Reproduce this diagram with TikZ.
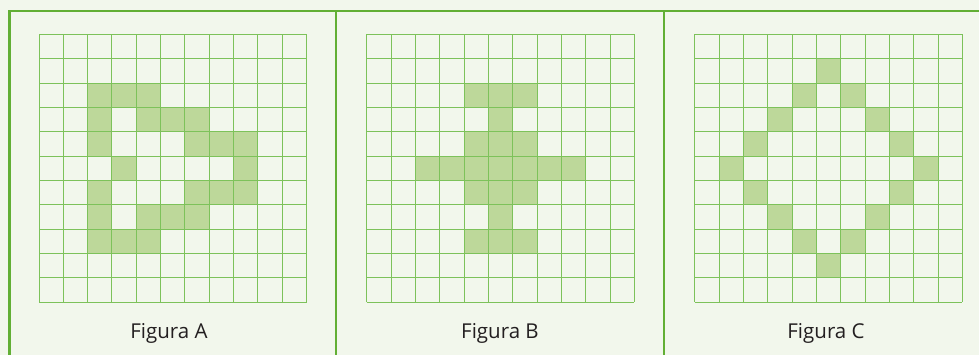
\documentclass[tikz,border=0pt]{standalone}
\usepackage{fontspec}
\setmainfont{Open Sans}
\definecolor{bg}{HTML}{F2F7EC}
\definecolor{frame}{HTML}{62AF35}
\definecolor{gridc}{HTML}{7DC25A}
\definecolor{cellfill}{HTML}{BDD89A}
\definecolor{txt}{HTML}{231F20}
\tikzset{
  framestroke/.style={draw=frame, line width=2.4pt},
  gridstroke/.style={draw=gridc, line width=1pt},
  cellshade/.style={fill=cellfill},
  caption/.style={text=txt, font=\fontsize{20.5}{24}\selectfont, anchor=base}
}
\newcommand{\cellsz}{24.33}
% \shadecells{x0}{y0}{list of row/col}
\newcommand{\shadecells}[3]{%
  \foreach \r/\c in {#3}{%
    \fill[cellshade] ({#1+\c*\cellsz},{#2+\r*\cellsz}) rectangle ++(\cellsz,\cellsz);
  }}
\newcommand{\drawgrid}[2]{%
  \foreach \i in {0,...,11}{%
    \draw[gridstroke] ({#1+\i*\cellsz},{#2}) -- ({#1+\i*\cellsz},{#2+11*\cellsz});
    \draw[gridstroke] ({#1},{#2+\i*\cellsz}) -- ({#1+11*\cellsz},{#2+\i*\cellsz});
  }}
\begin{document}
\begin{tikzpicture}[x=1pt,y=-1pt]
\useasboundingbox (0,0) rectangle (979,355);
\fill[bg] (0,0) rectangle (979,355);
% frame
\draw[framestroke] (9.5,355) -- (9.5,11) -- (979,11);
\draw[framestroke] (336,11) -- (336,355);
\draw[framestroke] (664,11) -- (664,355);
% Figure A
\shadecells{39}{34.5}{2/2,2/3,2/4, 3/2,3/4,3/5,3/6, 4/2,4/6,4/7,4/8, 5/3,5/8, 6/2,6/6,6/7,6/8, 7/2,7/4,7/5,7/6, 8/2,8/3,8/4}
\drawgrid{39}{34.5}
% Figure B
\shadecells{366.7}{34.5}{2/4,2/5,2/6, 3/5, 4/4,4/5,4/6, 5/2,5/3,5/4,5/5,5/6,5/7,5/8, 6/4,6/5,6/6, 7/5, 8/4,8/5,8/6}
\drawgrid{366.7}{34.5}
% Figure C
\shadecells{694.7}{34.5}{1/5, 2/4,2/6, 3/3,3/7, 4/2,4/8, 5/1,5/9, 6/2,6/8, 7/3,7/7, 8/4,8/6, 9/5}
\drawgrid{694.7}{34.5}
% captions
\node[caption] (capA) at (169,338.3) {Figura A};
\node[caption] (capB) at (500,338.3) {Figura B};
\node[caption] (capC) at (826,338.3) {Figura C};
\end{tikzpicture}
\end{document}
